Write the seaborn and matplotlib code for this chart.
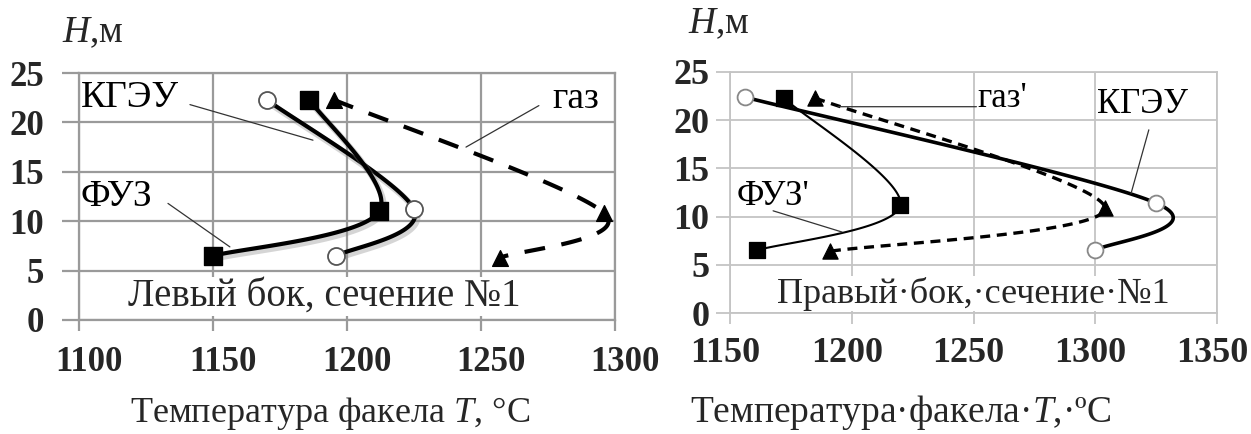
import numpy as np
import pandas as pd
import matplotlib
matplotlib.use("Agg")
import matplotlib.pyplot as plt
import seaborn as sns
from matplotlib import patheffects as pe
from matplotlib.transforms import ScaledTranslation

# ---------------- data ----------------
# Left side (Левый бок), section 1
left_kgeu_T = [1170, 1225, 1196]
left_kgeu_H = [22.3, 11.2, 6.5]
left_fuz_T = [1186, 1212, 1150]
left_fuz_H = [22.3, 11.0, 6.5]
left_gas_T = [1195, 1296, 1257]
left_gas_H = [22.3, 10.8, 6.3]

# Right side (Правый бок), section 1
right_kgeu_T = [1156, 1325, 1300]
right_kgeu_H = [22.4, 11.4, 6.5]
right_fuz_T = [1172, 1220, 1161]
right_fuz_H = [22.3, 11.2, 6.5]
right_gas_T = [1185, 1304, 1191]
right_gas_H = [22.3, 10.9, 6.4]

left_xticks = [1100, 1150, 1200, 1250, 1300]
right_xticks = [1150, 1200, 1250, 1300, 1350]
yticks = [0, 5, 10, 15, 20, 25]

# ---------------- style ----------------
sns.set_theme(style="whitegrid")
plt.rcParams["font.family"] = ["Liberation Serif", "DejaVu Serif"]
plt.rcParams["mathtext.fontset"] = "custom"
plt.rcParams["mathtext.rm"] = "Liberation Serif"
plt.rcParams["mathtext.it"] = "Liberation Serif:italic"
plt.rcParams["axes.unicode_minus"] = False

fig = plt.figure(figsize=(12.51, 4.34), dpi=100)
axL = fig.add_axes([79 / 1251, 1 - 320 / 434, 536 / 1251, 247 / 434])
axR = fig.add_axes([730 / 1251, 1 - 313 / 434, 487 / 1251, 241 / 434])


def smooth_curve(ax, xs, ys, n=60):
    """Excel-like smoothed line through the points (Bezier, Catmull-Rom tangents)."""
    x0, x1 = ax.get_xlim()
    y0, y1 = ax.get_ylim()
    bb = ax.get_position()
    W = bb.width * fig.get_figwidth() * fig.dpi
    H = bb.height * fig.get_figheight() * fig.dpi
    sx, sy = W / (x1 - x0), H / (y1 - y0)
    P = np.column_stack([np.asarray(xs) * sx, np.asarray(ys) * sy])
    E = np.vstack([P[0], P, P[-1]])
    out = []
    t = np.linspace(0, 1, n)[:, None]
    for i in range(len(P) - 1):
        b0 = E[i + 1]
        b3 = E[i + 2]
        b1 = b0 + (E[i + 2] - E[i]) / 6
        b2 = b3 - (E[i + 3] - E[i + 1]) / 6
        seg = ((1 - t) ** 3) * b0 + 3 * ((1 - t) ** 2) * t * b1 + 3 * (1 - t) * t ** 2 * b2 + t ** 3 * b3
        out.append(seg if i == 0 else seg[1:])
    out = np.vstack(out)
    return pd.DataFrame({"T": out[:, 0] / sx, "H": out[:, 1] / sy})


def setup(ax, xlim, xticks, gridc, glw, ylen, xlen, ypad, xpad, fs):
    ax.set_xlim(*xlim)
    ax.set_ylim(0, 25)
    ax.set_xticks(xticks)
    ax.set_yticks(yticks)
    ax.grid(True, color=gridc, linewidth=glw)
    ax.set_facecolor("white")
    for s in ax.spines.values():
        s.set_color(gridc)
        s.set_linewidth(glw)
    ax.tick_params(axis="y", length=ylen, width=glw, color=gridc, direction="out",
                   pad=ypad, left=True, labelsize=fs)
    ax.tick_params(axis="x", length=xlen, width=glw, color=gridc, direction="out",
                   pad=xpad, bottom=True, labelsize=fs)
    for lab in ax.get_xticklabels() + ax.get_yticklabels():
        lab.set_fontweight("bold")


setup(axL, (1100, 1300), left_xticks, "#9a9a9a", 1.6, 12, 8, 13, 11, 25)
setup(axR, (1150, 1350), right_xticks, "#c4c4c4", 1.3, 10, 8, 5, 9, 26)
for lab in axL.get_xticklabels():
    lab.set_transform(lab.get_transform() + ScaledTranslation(10 / 100, 0, fig.dpi_scale_trans))
for lab in axR.get_xticklabels():
    lab.set_transform(lab.get_transform() + ScaledTranslation(-5 / 100, 0, fig.dpi_scale_trans))

shadow = [pe.SimpleLineShadow(offset=(1.5, -2.0), shadow_color="#888888", alpha=0.35, linewidth=4.5),
          pe.Normal()]

# ---------------- left panel ----------------
d = smooth_curve(axL, left_gas_T, left_gas_H)
sns.lineplot(data=d, x="T", y="H", sort=False, estimator=None, ax=axL, color="black",
             linewidth=3.0).lines[-1].set_dashes((5, 4))
d = smooth_curve(axL, left_kgeu_T, left_kgeu_H)
l = sns.lineplot(data=d, x="T", y="H", sort=False, estimator=None, ax=axL, color="black",
                 linewidth=3.0).lines[-1]
l.set_path_effects(shadow)
d = smooth_curve(axL, left_fuz_T, left_fuz_H)
l = sns.lineplot(data=d, x="T", y="H", sort=False, estimator=None, ax=axL, color="black",
                 linewidth=3.0).lines[-1]
l.set_path_effects(shadow)

sns.scatterplot(x=left_kgeu_T, y=left_kgeu_H, ax=axL, marker="o", s=150, facecolor="white",
                edgecolor="#555555", linewidth=1.3, zorder=5)
sns.scatterplot(x=left_fuz_T, y=left_fuz_H, ax=axL, marker="s", s=150, color="black",
                edgecolor="black", zorder=5)
sns.scatterplot(x=left_gas_T, y=left_gas_H, ax=axL, marker="^", s=130, color="black",
                edgecolor="black", zorder=5)

tkL = dict(fontsize=27, color="black", va="center", ha="left")
tkR = dict(fontsize=25, color="black", va="center", ha="left")
lk = dict(arrowstyle="-", color="#333333", lw=0.9, shrinkA=0, shrinkB=0)
axL.annotate("КГЭУ", xy=(1100.6, 22.5), **tkL)
axL.annotate("", xy=(1187.3, 18.2), xytext=(1141.4, 21.8), arrowprops=lk)
axL.annotate("ФУЗ", xy=(1100.6, 12.5), **tkL)
axL.annotate("", xy=(1156.3, 7.4), xytext=(1133.2, 11.8), arrowprops=lk)
axL.annotate("газ", xy=(1276.8, 22.4), **tkL)
axL.annotate("", xy=(1244.4, 17.5), xytext=(1271.6, 21.7), arrowprops=lk)
axL.text(1191.5, 2.4, "Левый бок, сечение №1", fontsize=28, ha="center", va="center",
         bbox=dict(facecolor="white", edgecolor="none", pad=0.5))

# ---------------- right panel ----------------
d = smooth_curve(axR, right_gas_T, right_gas_H)
sns.lineplot(data=d, x="T", y="H", sort=False, estimator=None, ax=axR, color="black",
             linewidth=2.4).lines[-1].set_dashes((3, 2))
d = smooth_curve(axR, right_kgeu_T, right_kgeu_H)
sns.lineplot(data=d, x="T", y="H", sort=False, estimator=None, ax=axR, color="black",
             linewidth=2.6)
d = smooth_curve(axR, right_fuz_T, right_fuz_H)
sns.lineplot(data=d, x="T", y="H", sort=False, estimator=None, ax=axR, color="black",
             linewidth=1.5)

sns.scatterplot(x=right_kgeu_T, y=right_kgeu_H, ax=axR, marker="o", s=130, facecolor="white",
                edgecolor="#888888", linewidth=1.3, zorder=5)
sns.scatterplot(x=right_fuz_T, y=right_fuz_H, ax=axR, marker="s", s=130, color="black",
                edgecolor="black", zorder=5)
sns.scatterplot(x=right_gas_T, y=right_gas_H, ax=axR, marker="^", s=120, color="black",
                edgecolor="black", zorder=5)

axR.annotate("газ'", xy=(1251.4, 22.2), **tkR)
axR.annotate("", xy=(1251.2, 21.4), xytext=(1194.4, 21.4), arrowprops=lk)
axR.annotate("КГЭУ", xy=(1300.7, 21.6), **tkR)
axR.annotate("", xy=(1314.7, 12.4), xytext=(1322.0, 19.0), arrowprops=lk)
axR.annotate("ФУЗ'", xy=(1152.9, 12.1), **tkR)
axR.annotate("", xy=(1196.0, 8.4), xytext=(1167.7, 10.6), arrowprops=lk)
axR.text(1249.8, 2.0, "Правый·бок,·сечение·№1", fontsize=26, ha="center", va="center",
         bbox=dict(facecolor="white", edgecolor="none", pad=0.5))

for ax in (axL, axR):
    ax.set_xlabel("")
    ax.set_ylabel("")

# ---------------- axis titles ----------------
fig.text(62 / 1251, 1 - 33 / 434, "$H$,м", fontsize=27, ha="left", va="center")
fig.text(688 / 1251, 1 - 24 / 434, "$H$,м", fontsize=27, ha="left", va="center")
fig.text(330 / 1251, 1 - 413 / 434, "Температура факела $T$, °C", fontsize=26,
         ha="center", va="center")
fig.text(901 / 1251, 1 - 413 / 434, "Температура·факела·$T$,·ºC", fontsize=27,
         ha="center", va="center")

fig.savefig("out.png", dpi=100)
